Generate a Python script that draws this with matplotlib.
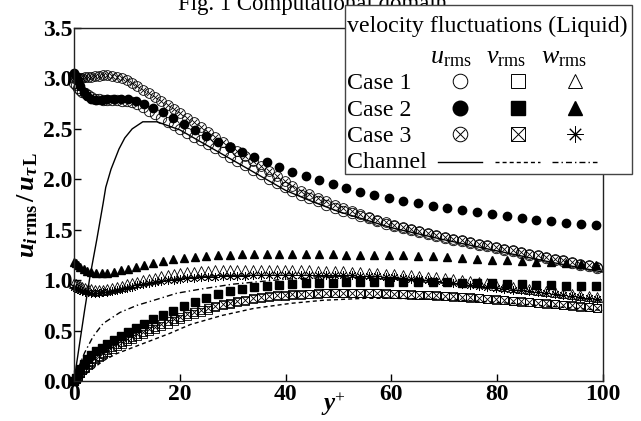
import matplotlib
matplotlib.use("Agg")
import matplotlib.pyplot as plt
from matplotlib.lines import Line2D
from matplotlib.patches import Rectangle

plt.rcParams["font.family"] = ["Liberation Serif", "DejaVu Serif"]
plt.rcParams["mathtext.fontset"] = "custom"
plt.rcParams["mathtext.rm"] = "Liberation Serif"
plt.rcParams["mathtext.it"] = "Liberation Serif:italic"
plt.rcParams["mathtext.bf"] = "Liberation Serif:bold"
plt.rcParams["mathtext.bfit"] = "Liberation Serif:italic:bold"

# ---- data ----
# Case 1 / Case 3 grid (fine)
y1 = [0.0, 0.3, 0.7, 1.1, 1.6, 2.1, 2.7, 3.3, 4.0, 4.7,
      5.5, 6.3, 7.2, 8.1, 9.0, 10.0, 11.0, 12.0, 13.1, 14.2,
      15.3, 16.5, 17.7, 18.9, 20.1, 21.4, 22.7, 24.0, 25.3, 26.7,
      28.1, 29.5, 30.9, 32.3, 33.8, 35.3, 36.8, 38.3, 39.8, 41.3,
      42.9, 44.5, 46.1, 47.7, 49.3, 50.9, 52.5, 54.1, 55.7, 57.3,
      58.9, 60.5, 62.1, 63.7, 65.3, 66.9, 68.5, 70.1, 71.7, 73.3,
      74.9, 76.5, 78.1, 79.7, 81.3, 82.9, 84.5, 86.1, 87.7, 89.3,
      90.9, 92.5, 94.1, 95.7, 97.3, 98.9]

c1_u = [2.95, 2.93, 2.91, 2.89, 2.87, 2.86, 2.84, 2.82, 2.80, 2.80,
        2.79, 2.79, 2.79, 2.79, 2.78, 2.78, 2.77, 2.75, 2.72, 2.68,
        2.65, 2.61, 2.57, 2.54, 2.50, 2.46, 2.42, 2.39, 2.35, 2.31,
        2.27, 2.22, 2.18, 2.14, 2.09, 2.05, 2.00, 1.96, 1.92, 1.88,
        1.84, 1.81, 1.78, 1.75, 1.72, 1.69, 1.67, 1.64, 1.62, 1.59,
        1.56, 1.54, 1.52, 1.50, 1.48, 1.46, 1.44, 1.42, 1.40, 1.39,
        1.37, 1.35, 1.34, 1.32, 1.30, 1.29, 1.27, 1.25, 1.24, 1.22,
        1.20, 1.19, 1.17, 1.15, 1.14, 1.12]
c1_v = [0.00, 0.02, 0.05, 0.08, 0.11, 0.13, 0.16, 0.19, 0.22, 0.24,
        0.27, 0.29, 0.32, 0.35, 0.37, 0.40, 0.42, 0.45, 0.47, 0.50,
        0.52, 0.55, 0.57, 0.59, 0.61, 0.64, 0.66, 0.68, 0.70, 0.73,
        0.75, 0.76, 0.78, 0.79, 0.81, 0.82, 0.83, 0.84, 0.84, 0.85,
        0.85, 0.86, 0.86, 0.87, 0.87, 0.87, 0.87, 0.87, 0.87, 0.87,
        0.86, 0.86, 0.86, 0.85, 0.85, 0.85, 0.84, 0.84, 0.83, 0.83,
        0.82, 0.82, 0.81, 0.80, 0.80, 0.79, 0.78, 0.78, 0.77, 0.76,
        0.76, 0.75, 0.74, 0.73, 0.73, 0.72]
c1_w = [0.97, 0.96, 0.95, 0.94, 0.93, 0.92, 0.91, 0.91, 0.90, 0.90,
        0.90, 0.91, 0.92, 0.93, 0.94, 0.96, 0.97, 0.98, 1.00, 1.01,
        1.02, 1.04, 1.05, 1.06, 1.07, 1.08, 1.08, 1.09, 1.09, 1.10,
        1.10, 1.10, 1.10, 1.10, 1.10, 1.10, 1.10, 1.10, 1.10, 1.10,
        1.10, 1.10, 1.09, 1.09, 1.09, 1.09, 1.08, 1.08, 1.07, 1.07,
        1.06, 1.06, 1.05, 1.05, 1.04, 1.03, 1.03, 1.02, 1.01, 1.00,
        0.99, 0.98, 0.97, 0.95, 0.94, 0.93, 0.92, 0.91, 0.90, 0.89,
        0.88, 0.87, 0.86, 0.85, 0.84, 0.83]

c3_u = [3.00, 3.00, 3.00, 3.00, 3.00, 3.01, 3.01, 3.01, 3.02, 3.02,
        3.03, 3.03, 3.02, 3.01, 3.00, 2.98, 2.95, 2.92, 2.89, 2.86,
        2.82, 2.78, 2.74, 2.70, 2.66, 2.61, 2.57, 2.52, 2.47, 2.42,
        2.37, 2.32, 2.28, 2.23, 2.18, 2.13, 2.08, 2.03, 1.98, 1.93,
        1.88, 1.85, 1.81, 1.78, 1.75, 1.72, 1.69, 1.66, 1.63, 1.60,
        1.58, 1.55, 1.53, 1.51, 1.49, 1.47, 1.45, 1.43, 1.41, 1.40,
        1.38, 1.36, 1.35, 1.33, 1.31, 1.30, 1.28, 1.26, 1.25, 1.23,
        1.21, 1.20, 1.18, 1.16, 1.15, 1.13]
c3_v = [0.00, 0.02, 0.05, 0.08, 0.11, 0.14, 0.17, 0.20, 0.23, 0.25,
        0.28, 0.31, 0.34, 0.37, 0.39, 0.42, 0.44, 0.47, 0.49, 0.52,
        0.54, 0.57, 0.59, 0.61, 0.63, 0.66, 0.68, 0.70, 0.72, 0.74,
        0.76, 0.77, 0.79, 0.80, 0.82, 0.83, 0.84, 0.85, 0.85, 0.86,
        0.86, 0.86, 0.87, 0.87, 0.87, 0.87, 0.87, 0.87, 0.87, 0.87,
        0.87, 0.86, 0.86, 0.86, 0.85, 0.85, 0.85, 0.84, 0.84, 0.83,
        0.83, 0.82, 0.81, 0.81, 0.80, 0.79, 0.79, 0.78, 0.77, 0.77,
        0.76, 0.75, 0.75, 0.74, 0.73, 0.72]
c3_w = [0.93, 0.92, 0.91, 0.90, 0.89, 0.88, 0.88, 0.87, 0.87, 0.87,
        0.88, 0.88, 0.89, 0.90, 0.91, 0.92, 0.93, 0.95, 0.96, 0.97,
        0.98, 0.99, 1.00, 1.00, 1.01, 1.02, 1.02, 1.03, 1.03, 1.03,
        1.04, 1.04, 1.04, 1.04, 1.05, 1.05, 1.05, 1.05, 1.05, 1.05,
        1.05, 1.05, 1.05, 1.05, 1.05, 1.05, 1.05, 1.04, 1.04, 1.04,
        1.03, 1.03, 1.02, 1.01, 1.01, 1.00, 0.99, 0.98, 0.97, 0.96,
        0.95, 0.94, 0.93, 0.92, 0.91, 0.90, 0.90, 0.89, 0.88, 0.87,
        0.86, 0.85, 0.84, 0.83, 0.82, 0.81]

# Case 2 grid (coarse)
y2 = [0.0, 0.3, 0.7, 1.2, 1.8, 2.5, 3.3, 4.2, 5.2, 6.3,
      7.5, 8.8, 10.2, 11.7, 13.3, 15.0, 16.8, 18.7, 20.7, 22.8,
      25.0, 27.2, 29.4, 31.7, 34.0, 36.4, 38.8, 41.3, 43.8, 46.3,
      48.9, 51.5, 54.1, 56.8, 59.5, 62.2, 65.0, 67.8, 70.6, 73.4,
      76.2, 79.0, 81.8, 84.6, 87.4, 90.2, 93.0, 95.8, 98.6]
c2_u = [3.05, 3.02, 2.97, 2.92, 2.87, 2.83, 2.80, 2.79, 2.79, 2.80,
        2.80, 2.80, 2.80, 2.78, 2.75, 2.71, 2.67, 2.61, 2.55, 2.49,
        2.43, 2.37, 2.32, 2.27, 2.22, 2.17, 2.12, 2.07, 2.03, 1.99,
        1.95, 1.91, 1.87, 1.84, 1.81, 1.78, 1.76, 1.74, 1.72, 1.70,
        1.68, 1.66, 1.64, 1.62, 1.60, 1.59, 1.57, 1.56, 1.55]
c2_v = [0.00, 0.03, 0.07, 0.12, 0.17, 0.22, 0.26, 0.30, 0.33, 0.37,
        0.41, 0.45, 0.49, 0.53, 0.57, 0.61, 0.65, 0.69, 0.74, 0.78,
        0.82, 0.86, 0.89, 0.91, 0.93, 0.94, 0.95, 0.96, 0.97, 0.97,
        0.97, 0.98, 0.98, 0.98, 0.98, 0.98, 0.98, 0.98, 0.98, 0.97,
        0.97, 0.97, 0.96, 0.96, 0.95, 0.95, 0.94, 0.94, 0.94]
c2_w = [1.18, 1.17, 1.15, 1.13, 1.11, 1.09, 1.08, 1.07, 1.07, 1.07,
        1.08, 1.10, 1.11, 1.13, 1.15, 1.17, 1.19, 1.21, 1.22, 1.23,
        1.24, 1.25, 1.25, 1.26, 1.26, 1.26, 1.26, 1.26, 1.26, 1.26,
        1.26, 1.25, 1.25, 1.25, 1.25, 1.25, 1.24, 1.24, 1.23, 1.22,
        1.21, 1.20, 1.20, 1.19, 1.18, 1.18, 1.17, 1.16, 1.15]

# single-phase channel (lines)
ych_u = [0, 1, 2, 3, 4.3, 5.5, 6, 7, 8.5, 9.6, 11, 13, 15.7, 20, 25, 30,
         35, 40, 45, 50, 60, 70, 80, 90, 100]
ch_u = [0, 0.35, 0.70, 1.03, 1.40, 1.76, 1.92, 2.10, 2.30, 2.41, 2.50, 2.57,
        2.57, 2.49, 2.34, 2.19, 2.04, 1.89, 1.78, 1.68, 1.52, 1.40, 1.29,
        1.18, 1.08]
ych_v = [0, 2, 3, 5.5, 8, 12, 18, 22, 28, 34, 41, 47, 55, 60, 70, 80, 90, 100]
ch_v = [0, 0.06, 0.10, 0.20, 0.27, 0.35, 0.47, 0.56, 0.65, 0.72, 0.77, 0.80,
        0.82, 0.82, 0.81, 0.78, 0.74, 0.70]
ych_w = [0, 1, 2, 3.6, 5.5, 8.7, 11.9, 15.7, 19.4, 23.8, 30, 40, 50, 60, 70,
         80, 90, 100]
ch_w = [0, 0.15, 0.28, 0.44, 0.57, 0.68, 0.75, 0.81, 0.87, 0.91, 0.96, 1.01,
        1.03, 1.02, 0.98, 0.92, 0.86, 0.79]

xticks = [0, 20, 40, 60, 80, 100]
yticks = [0.0, 0.5, 1.0, 1.5, 2.0, 2.5, 3.0, 3.5]

row_names = ["Case 1", "Case 2", "Case 3", "Channel"]
col_names = ["u", "v", "w"]

# ---- styles ----
DASH = (0, (2.9, 2.2))
DASHDOT = (0, (4.3, 2.2, 1.0, 2.2))
MEW = 0.6

W, H = 641, 421
fig = plt.figure(figsize=(W / 100, H / 100), dpi=100)
ax = fig.add_axes([74 / W, 1 - 381 / H, (603 - 74) / W, (381 - 28) / H])


def otimes(ax, x, y, ms):
    ax.plot(x, y, ls="none", marker="o", mfc="none", mec="k", ms=ms, mew=MEW, clip_on=False)
    ax.plot(x, y, ls="none", marker="x", color="k", ms=ms * 0.7, mew=MEW, clip_on=False)


def boxtimes(ax, x, y, ms):
    ax.plot(x, y, ls="none", marker="s", mfc="none", mec="k", ms=ms, mew=MEW, clip_on=False)
    ax.plot(x, y, ls="none", marker="x", color="k", ms=ms, mew=MEW, clip_on=False)


# Case 1 (open)
ax.plot(y1, c1_u, ls="none", marker="o", mfc="none", mec="k", ms=7.5, mew=MEW, clip_on=False)
ax.plot(y1, c1_v, ls="none", marker="s", mfc="none", mec="k", ms=6, mew=MEW, clip_on=False)
ax.plot(y1, c1_w, ls="none", marker="^", mfc="none", mec="k", ms=6.5, mew=MEW, clip_on=False)

# Case 2 (filled)
ax.plot(y2, c2_u, ls="none", marker="o", color="k", ms=6, clip_on=False)
ax.plot(y2, c2_v, ls="none", marker="s", color="k", ms=5.6, clip_on=False)
ax.plot(y2, c2_w, ls="none", marker="^", color="k", ms=6, clip_on=False)

# Case 3 (crossed)
otimes(ax, y1, c3_u, 7)
boxtimes(ax, y1, c3_v, 6)
ax.plot(y1, c3_w, ls="none", marker=(8, 2, 0), color="k", ms=6.5, mew=MEW, clip_on=False)

# Channel
ax.plot(ych_u, ch_u, color="k", lw=1.0)
ax.plot(ych_v, ch_v, color="k", lw=1.0, ls=DASH)
ax.plot(ych_w, ch_w, color="k", lw=1.0, ls=DASHDOT)

ax.set_xlim(0, 100)
ax.set_ylim(0, 3.5)
ax.set_xticks(xticks)
ax.set_xticklabels([str(t) for t in xticks])
ax.set_yticks(yticks)
ax.set_yticklabels([f"{t:.1f}" for t in yticks])
ax.tick_params(direction="in", length=5, width=1, labelsize=17, pad=2)
ax.tick_params(axis="y", pad=1)
for lbl in ax.get_xticklabels() + ax.get_yticklabels():
    lbl.set_fontweight("bold")
for sp in ax.spines.values():
    sp.set_linewidth(1.0)
    sp.set_color("#222222")

# axis labels
fig.text(28 / W, 1 - 205 / H,
         r"$\mathbfit{u}_{\mathbfit{i}\,\mathbf{rms}}\,\mathbf{/}\,\mathbfit{u}_{\mathbfit{\tau}\,\mathbf{L}}$",
         rotation=90, ha="center", va="center", fontsize=19)
fig.text(333 / W, 1 - 404 / H, r"$\mathbfit{y}^{+}$", ha="center", va="center", fontsize=18)

# title (cut off at the top edge in the original)
fig.text(312 / W, 1 - 10 / H, "Fig. 1 Computational domain", ha="center", va="baseline",
         fontsize=16.5)

# ---- table legend ----
fig.add_artist(Rectangle((345 / W, 1 - 174 / H), (632 - 345) / W, (174 - 5) / H,
                         transform=fig.transFigure, facecolor="white",
                         edgecolor="#444444", lw=1.0, zorder=5))
fs = 17.2
fig.text(347 / W, 1 - 32 / H, "velocity fluctuations (Liquid)", ha="left", va="baseline",
         fontsize=fs, zorder=6)

hx = [451, 506, 564]
for x, name in zip(hx, col_names):
    fig.text(x / W, 1 - 63 / H, rf"${name}_{{\mathrm{{rms}}}}$", ha="center", va="baseline",
             fontsize=fs + 1.5, zorder=6)

rows_y = [89, 116, 142, 168]
for yb, name in zip(rows_y, row_names):
    fig.text(347 / W, 1 - yb / H, name, ha="left", va="baseline", fontsize=fs, zorder=6)


def glyph(x, y, **kw):
    fig.add_artist(Line2D([x / W], [1 - y / H], transform=fig.transFigure,
                          linestyle="none", zorder=7, **kw))


mx = [460, 518, 575]
my = [r - 8 for r in rows_y]
LMS = 10.5
# Case 1
glyph(mx[0], my[0], marker="o", mfc="none", mec="k", ms=LMS, mew=0.7)
glyph(mx[1], my[0], marker="s", mfc="none", mec="k", ms=LMS - 1, mew=0.7)
glyph(mx[2], my[0], marker="^", mfc="none", mec="k", ms=LMS, mew=0.7)
# Case 2
glyph(mx[0], my[1], marker="o", color="k", ms=LMS)
glyph(mx[1], my[1], marker="s", color="k", ms=LMS - 1)
glyph(mx[2], my[1], marker="^", color="k", ms=LMS)
# Case 3
glyph(mx[0], my[2], marker="o", mfc="none", mec="k", ms=LMS, mew=0.7)
glyph(mx[0], my[2], marker="x", color="k", ms=LMS * 0.7, mew=0.7)
glyph(mx[1], my[2], marker="s", mfc="none", mec="k", ms=LMS - 1, mew=0.7)
glyph(mx[1], my[2], marker="x", color="k", ms=LMS - 1, mew=0.7)
glyph(mx[2], my[2], marker=(8, 2, 0), color="k", ms=LMS + 1, mew=0.7)

# Channel line samples
for (x0, x1), ls in zip([(438, 482), (495, 540), (552, 597)], ["-", DASH, DASHDOT]):
    fig.add_artist(Line2D([x0 / W, x1 / W], [1 - 162 / H, 1 - 162 / H],
                          transform=fig.transFigure, color="k", lw=1.0, ls=ls, zorder=7))

fig.savefig("out.png", dpi=100)
